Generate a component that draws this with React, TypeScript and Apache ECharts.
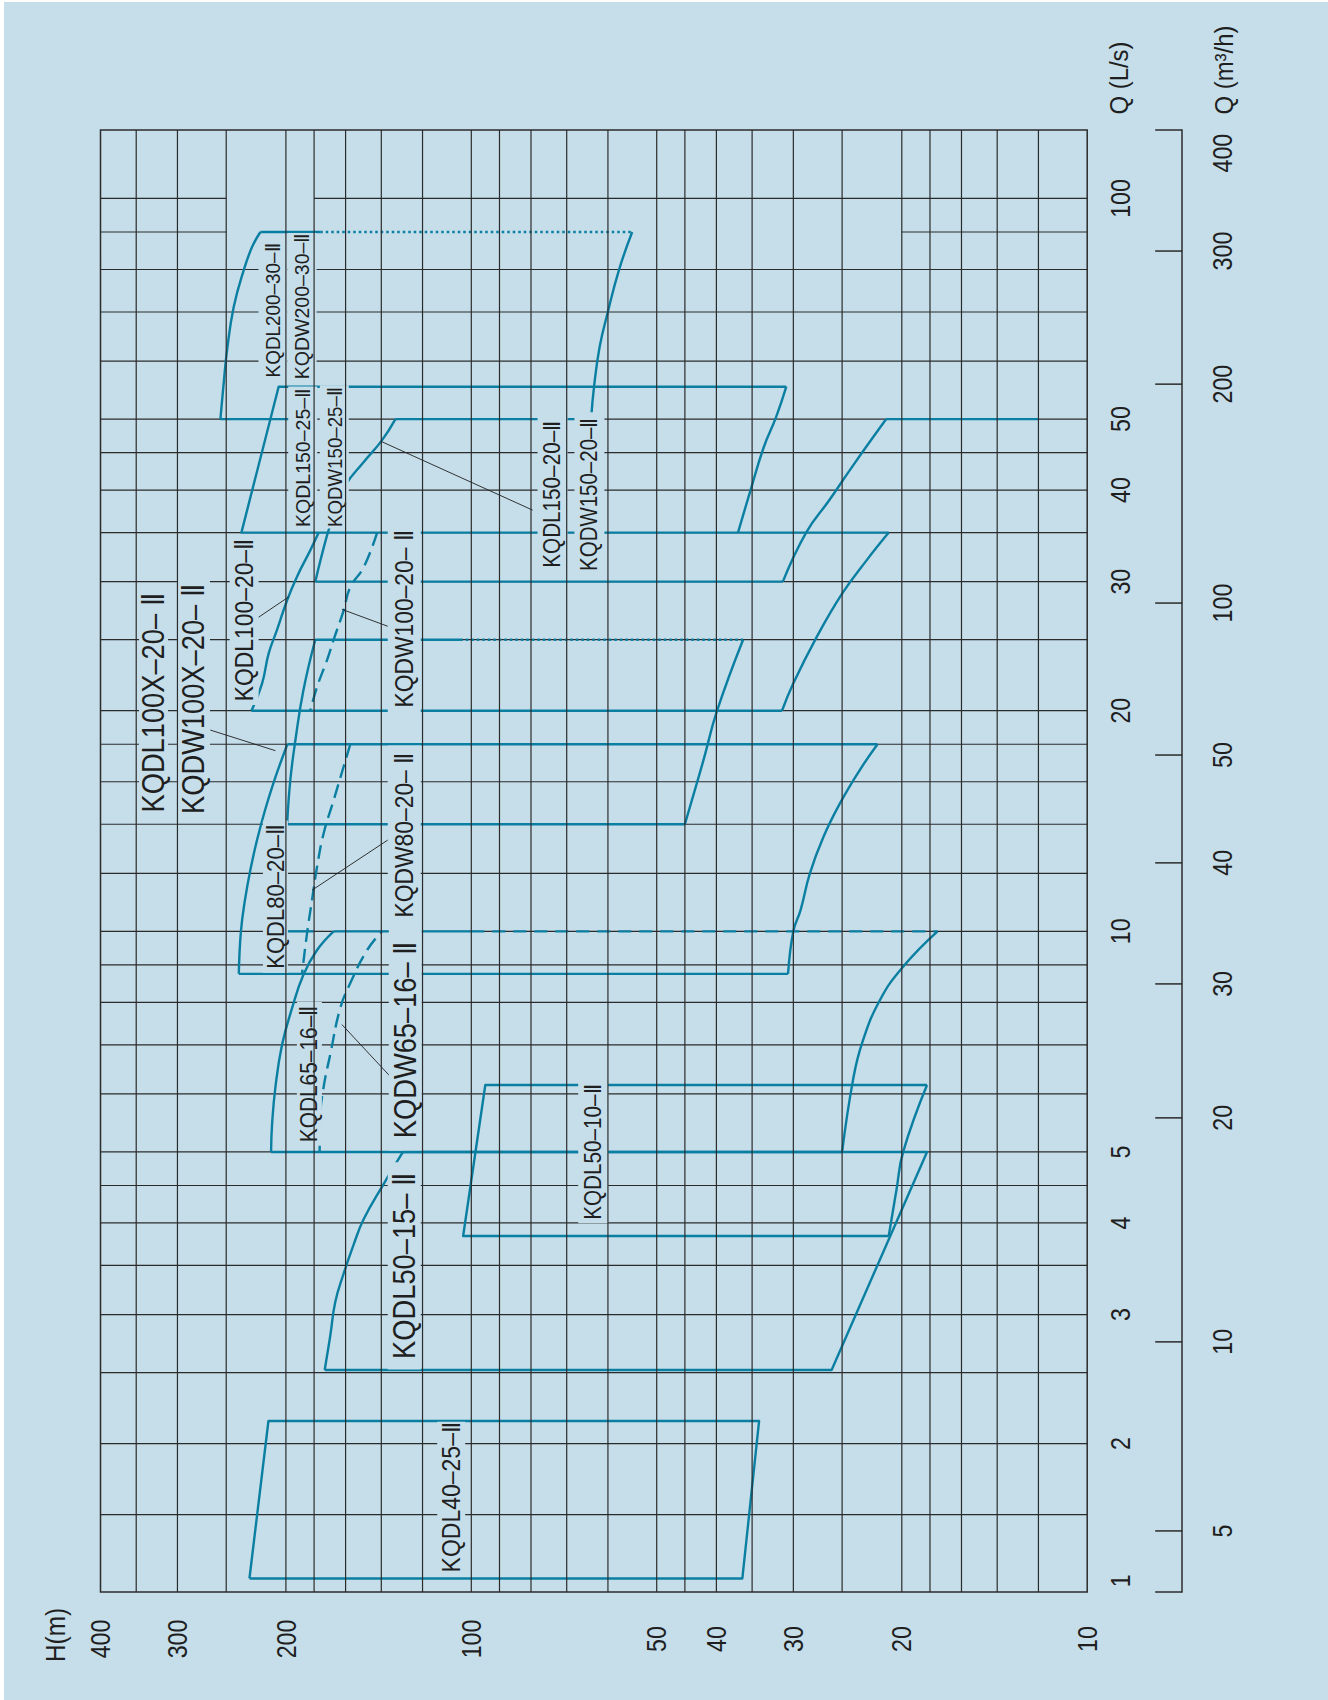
import React, { useEffect, useRef } from 'react';
import * as echarts from 'echarts';

const BG = '#c5deea';
const TEAL = '#0b7fa2';
const GRID = '#2b2b2b';
const INK = '#1f1f1f';
const FONT = "'Liberation Sans', Arial, Helvetica, sans-serif";

// ---- axes (H in m along the bottom, Q in L/s up the right side) ----
const H_MIN = 10;
const H_MAX = 400;
const Q_MIN = 1.2546;
const Q_MAX = 124;

const hTickLabels = [400, 300, 200, 100, 50, 40, 30, 20, 10];
const hGridValues = [350, 300, 250, 200, 180, 160, 140, 120, 100, 90, 80, 70, 60, 50, 45, 40, 35, 30, 25, 20, 18, 16, 14, 12];
const qGridValues = [100, 90, 80, 70, 60, 50, 45, 40, 35, 30, 25, 20, 18, 16, 14, 12, 10, 9, 8, 7, 6, 5, 4.5, 4, 3.5, 3, 2.5, 2, 1.6];
// missing pieces of horizontal grid lines: [Q, H from, H to]
const qGridGaps = [[100, 250, 180], [90, 250, 20]];

const qLsLabels = [2, 3, 4, 5, 10, 20, 30, 40, 50, 100];
const qLsBottomLabelAt = 1.3;
// m3/h scale as printed (tick positions read on the L/s scale)
const mhTickAt = [Q_MAX, 84.77, 55.8, 28.05, 17.4, 12.4, 8.477, 5.565, 2.753, 1.52, Q_MIN];
const mhLabelText = ['400', '300', '200', '100', '50', '40', '30', '20', '10', '5'];
const mhLabelAt = [115.3, 84.77, 55.8, 28.05, 17.4, 12.4, 8.477, 5.565, 2.753, 1.52];

// ---- performance envelopes: [H (m), Q (L/s)] ----
// straight strokes
const kqdl40_25Box = [[229.2, 1.309], [213.5, 2.147], [34.1, 2.147], [36.3, 1.309], [229.2, 1.309]];
const kqdl50_15Box = [[129.1, 5], [18.2, 5], [26, 2.52], [173, 2.52]];
const kqdl50_10Box = [[21, 3.84], [103.1, 3.84], [94.9, 6.17], [18.2, 6.17]];
const kqdl65_16Top = [[100, 10], [167.3, 10]];
const kqdl65_16Bottom = [[211.4, 5], [25, 5]];
const kqdl80_20Bottom = [[30.6, 8.75], [238.5, 8.75]];
const kqdl80_20Top = [[198.9, 18], [21.9, 18]];
const kqdl80Stub = [[199.1, 10], [180.3, 10]];
const kqdl100x_20Top = [[104.2, 25], [179.2, 25]];
const kqdl100x_20Bottom = [[199.1, 14], [45, 14]];
const kqdl100_20Bottom = [[227.5, 20], [31.3, 20]];
const kqdl150_20Bottom = [[179.2, 30], [31.2, 30]];
const kqdl150_20Ext = [[21.2, 50], [12, 50]];
const kqdl150_25Box = [[36.9, 35], [236.2, 35], [205.5, 55.35], [30.8, 55.35]];
const kqdl150_25Bottom = [[36.9, 35], [21, 35]];
const kqdl200_30Bottom = [[189.5, 50], [255.5, 50]];
const kqdl200_30Top = [[220, 90], [175.9, 90]];
const kqdl200_30BottomRight = [[63.9, 50], [132.8, 50]];
// dashed / dotted straight strokes
const kqdl65_16TopDashed = [[100, 10], [17.5, 10]];
const kqdl100x_20TopDotted = [[104.2, 25], [36.2, 25]];
const kqdl200_30TopDotted = [[175.9, 90], [54.8, 90]];
// curved strokes
const kqdl50_15Left = [[173, 2.52], [169.4, 2.81], [166.3, 3.12], [161.2, 3.41], [155.2, 3.74], [149.5, 4.05], [138.8, 4.52], [129.1, 5]];
const kqdl50_10Right = [[18.2, 6.17], [19.9, 5], [20.4, 4.44], [21, 3.84]];
const kqdl65_16Left = [[167.3, 10], [178, 9.43], [187.4, 8.72], [195.4, 7.86], [202.9, 7.0], [208, 6.13], [210.6, 5.46], [211.4, 5]];
const kqdl65_16Right = [[25, 5], [24, 6.27], [23.2, 7.04], [21.7, 8.06], [19.9, 8.95], [17.5, 10]];
const kqdw65_16Left = [[176.3, 5], [175.9, 5.6], [173.7, 6.13], [169.4, 6.8], [163.2, 7.86], [157.2, 8.5], [147.6, 9.43], [139.6, 10]];
const kqdl80_20Left = [[238.5, 8.75], [236.7, 9.97], [233.1, 11.03], [227.9, 12.24], [222.8, 13.32], [216.2, 14.64], [208.7, 16.1], [203.3, 17.13], [198.9, 18]];
const kqdl80_20Right = [[21.9, 18], [23.4, 16.6], [25.2, 14.95], [26.8, 13.46], [28.2, 12], [29.2, 10.69], [30, 10], [30.6, 8.75]];
const kqdw80_20Left = [[157.2, 18], [161.2, 16.77], [167.3, 15.1], [173.7, 13.6], [178, 12.25], [181.4, 11.03], [184.8, 9.94], [188.3, 8.75]];
const kqdl100x_20Left = [[179.2, 25], [187.4, 21.3], [193, 18.24], [196.7, 16.1], [199.1, 14]];
const kqdl100x_20Right = [[45, 14], [42, 17.1], [39.9, 20], [36.2, 25]];
const kqdl100_20Left = [[176.9, 35], [182.6, 33.1], [191.8, 30.5], [199.1, 28.3], [206.7, 25.8], [213.3, 23.95], [218.6, 21.8], [227.5, 20]];
const kqdl100_20Right = [[31.3, 20], [30, 21.8], [27.5, 25.2], [25, 28.9], [22.8, 32.1], [21, 35]];
const kqdw100_20Left = [[142.2, 35], [149.5, 31.4], [157.2, 29.5], [161.2, 27.4], [167.3, 25], [171.5, 23.45], [178, 21.56], [182.6, 20]];
const kqdl150_20Left = [[132.8, 50], [139.6, 46.8], [149.5, 43.7], [160.2, 40.6], [166.3, 37.6], [171.5, 34.7], [179.2, 30]];
const kqdl150_20Right = [[31.2, 30], [28.6, 35], [26.2, 38.8], [24.1, 43], [21.2, 50]];
const kqdl150_25Right = [[30.8, 55.35], [32, 50.3], [33.5, 45.8], [35.2, 40], [36.9, 35]];
const kqdl200_30Left = [[255.5, 50], [252.4, 55.9], [249.2, 62.1], [243.1, 71.1], [234.2, 79.8], [226.9, 85.9], [220, 90]];
const kqdl200_30Right = [[54.8, 90], [57.6, 79.8], [60.1, 69.7], [61.9, 62.7], [63.2, 55.35], [63.9, 50]];

const leaders = [
  [[139.6, 46.55], [79.5, 37.56]],
  [[221.9, 26.8], [197.9, 28.6]],
  [[133.7, 25.9], [162.2, 27.5]],
  [[265.3, 18.82], [208, 17.64]],
  [[135.4, 13.39], [181.4, 11.38]],
  [[162.2, 7.46], [134.5, 6.3]],
];

// model names, anchored at [H, Q]
const modelLabels = [
  { text: 'KQDL200–30–Ⅱ', h: 209.9, q: 70.4 },
  { text: 'KQDW200–30–Ⅱ', h: 188.3, q: 71.3 },
  { text: 'KQDL150–25–Ⅱ', h: 187.8, q: 44.3 },
  { text: 'KQDW150–25–Ⅱ', h: 166.9, q: 44.4 },
  { text: 'KQDL150–20–Ⅱ', h: 73.8, q: 39.5 },
  { text: 'KQDW150–20–Ⅱ', h: 64.3, q: 39.5 },
  { text: 'KQDL100–20–Ⅱ', h: 233.8, q: 26.6 },
  { text: 'KQDW100–20– Ⅱ', h: 128.5, q: 26.7 },
  { text: 'KQDL100X–20– Ⅱ', h: 328.1, q: 20.5 },
  { text: 'KQDW100X–20– Ⅱ', h: 282.6, q: 20.75 },
  { text: 'KQDL80–20–Ⅱ', h: 208, q: 11.15 },
  { text: 'KQDW80–20– Ⅱ', h: 128.5, q: 13.53 },
  { text: 'KQDW65–16– Ⅱ', h: 128, q: 7.11 },
  { text: 'KQDL65–16–Ⅱ', h: 183.2, q: 6.39 },
  { text: 'KQDL50–15– Ⅱ', h: 128.5, q: 3.495 },
  { text: 'KQDL50–10–Ⅱ', h: 63.4, q: 5.0 },
  { text: 'KQDL40–25–Ⅱ', h: 107.8, q: 1.691 },
];
// font size, horizontal condensing, padding across / along the text
const modelLabelStyle = [
  { fs: 21, cond: 0.9, pa: 6, pl: 0 },
  { fs: 21, cond: 0.93, pa: 6, pl: 0 },
  { fs: 21, cond: 0.93, pa: 6, pl: 2 },
  { fs: 21, cond: 0.89, pa: 6, pl: 2 },
  { fs: 23, cond: 0.9, pa: 6, pl: 6 },
  { fs: 23, cond: 0.89, pa: 6, pl: 6 },
  { fs: 26, cond: 0.88, pa: 4, pl: 4 },
  { fs: 26, cond: 0.88, pa: 6, pl: 8 },
  { fs: 31, cond: 0.88, pa: 2, pl: 8 },
  { fs: 31, cond: 0.88, pa: 4, pl: 8 },
  { fs: 24, cond: 0.92, pa: 3, pl: 4 },
  { fs: 26, cond: 0.88, pa: 6, pl: 8 },
  { fs: 31, cond: 0.88, pa: 4, pl: 14 },
  { fs: 24, cond: 0.87, pa: 3, pl: 4 },
  { fs: 31, cond: 0.88, pa: 4, pl: 12 },
  { fs: 23, cond: 0.9, pa: 6, pl: 4 },
  { fs: 25, cond: 0.92, pa: 4, pl: 0 },
];

function buildHSegments() {
  const segs: number[][] = [];
  qGridValues.forEach((q) => {
    let start = H_MAX;
    qGridGaps.filter((g) => g[0] === q).forEach((g) => {
      segs.push([start, q, g[1], q]);
      start = g[2];
    });
    segs.push([start, q, H_MIN, q]);
  });
  return segs;
}

function segSeries(segs: number[][], z: number, color: string, width: number) {
  return {
    type: 'custom',
    data: segs,
    z,
    silent: true,
    clip: false,
    renderItem: (_p: any, api: any) => {
      const a = api.coord([api.value(0), api.value(1)]);
      const b = api.coord([api.value(2), api.value(3)]);
      return {
        type: 'line',
        shape: { x1: a[0], y1: a[1], x2: b[0], y2: b[1] },
        style: { stroke: color, lineWidth: width },
      };
    },
  };
}

function stroke(data: number[][], dash: any = 'solid', smooth: any = false) {
  return {
    type: 'line',
    data,
    smooth,
    showSymbol: false,
    symbol: 'none',
    silent: true,
    z: 2,
    lineStyle: { color: TEAL, width: 2.4, type: dash, cap: 'butt', join: 'round' },
  };
}

function textSeries(rows: any[], z: number) {
  return {
    type: 'custom',
    data: rows.map((r, i) => [r.h, r.q, i]),
    z,
    silent: true,
    clip: false,
    renderItem: (_p: any, api: any) => {
      const r = rows[api.value(2)];
      const p = api.coord([api.value(0), api.value(1)]);
      return {
        type: 'text',
        x: p[0] + (r.dx || 0),
        y: p[1] + (r.dy || 0),
        rotation: Math.PI / 2,
        scaleX: r.cond,
        style: {
          text: r.text,
          fill: INK,
          fontSize: r.fs,
          fontFamily: FONT,
          align: 'center',
          verticalAlign: 'middle',
          backgroundColor: r.bg || 'transparent',
          padding: r.pad || 0,
          lineHeight: r.lh || r.fs,
        },
      };
    },
  };
}

export default function App() {
  const ref = useRef<HTMLDivElement>(null);
  useEffect(() => {
    if (!ref.current) return;
    const chart = echarts.init(ref.current, undefined, { renderer: 'svg' });

    const vSegs = hGridValues.map((h) => [h, Q_MIN, h, Q_MAX]);
    const hSegs = buildHSegments();
    const mhTicks = mhTickAt.map((q) => [H_MIN, q]);

    const axisNum = { fs: 27, cond: 0.86 };
    const axisRows: any[] = [];
    hTickLabels.forEach((h) => axisRows.push({ h, q: Q_MIN, dx: 0, dy: 47, text: String(h), ...axisNum }));
    qLsLabels.forEach((q) => axisRows.push({ h: H_MIN, q, dx: 33, dy: 0, text: String(q), ...axisNum }));
    axisRows.push({ h: H_MIN, q: qLsBottomLabelAt, dx: 33, dy: 0, text: '1', ...axisNum });
    mhLabelText.forEach((t, i) => axisRows.push({ h: H_MIN, q: mhLabelAt[i], dx: 135, dy: 0, text: t, ...axisNum }));
    axisRows.push({ h: H_MAX, q: Q_MIN, dx: -45, dy: 43, text: 'H(m)', fs: 27, cond: 0.9 });
    axisRows.push({ h: H_MIN, q: Q_MAX, dx: 31, dy: -52, text: 'Q (L/s)', fs: 26, cond: 0.92 });
    axisRows.push({ h: H_MIN, q: Q_MAX, dx: 136, dy: -60, text: 'Q (m³/h)', fs: 26, cond: 0.92 });

    const labelRows = modelLabels.map((l, i) => {
      const s = modelLabelStyle[i];
      return { h: l.h, q: l.q, text: l.text, fs: s.fs, cond: s.cond, bg: BG, pad: [s.pa, s.pl], lh: Math.round(s.fs * 0.8) };
    });

    const straight = [
      kqdl40_25Box, kqdl50_15Box, kqdl50_10Box, kqdl65_16Top, kqdl65_16Bottom, kqdl80_20Bottom, kqdl80_20Top,
      kqdl80Stub, kqdl100x_20Top, kqdl100x_20Bottom, kqdl100_20Bottom, kqdl150_20Bottom, kqdl150_20Ext,
      kqdl150_25Box, kqdl150_25Bottom, kqdl200_30Bottom, kqdl200_30Top, kqdl200_30BottomRight,
    ];
    const curved = [
      kqdl50_15Left, kqdl50_10Right, kqdl65_16Left, kqdl65_16Right, kqdl80_20Left, kqdl80_20Right,
      kqdl100x_20Left, kqdl100x_20Right, kqdl100_20Left, kqdl100_20Right, kqdl150_20Left, kqdl150_20Right,
      kqdl150_25Right, kqdl200_30Left, kqdl200_30Right,
    ];
    const dashedCurves = [kqdw65_16Left, kqdw80_20Left, kqdw100_20Left];

    const option: any = {
      animation: false,
      backgroundColor: BG,
      graphic: [
        { type: 'rect', shape: { x: 0, y: 0, width: 4, height: 1700 }, style: { fill: '#ffffff' }, z: 100 },
        { type: 'rect', shape: { x: 0, y: 0, width: 1328, height: 2 }, style: { fill: '#ffffff' }, z: 100 },
      ],
      grid: { left: 100.5, top: 130, width: 986.7, height: 1462, show: true, borderColor: GRID, borderWidth: 1.5, backgroundColor: 'transparent' },
      xAxis: {
        type: 'log', logBase: 10, min: H_MIN, max: H_MAX, inverse: true,
        axisLine: { show: false }, axisTick: { show: false }, axisLabel: { show: false }, splitLine: { show: false },
      },
      yAxis: [
        {
          type: 'log', logBase: 10, min: Q_MIN, max: Q_MAX, position: 'right',
          axisLine: { show: false }, axisTick: { show: false }, axisLabel: { show: false }, splitLine: { show: false },
        },
        {
          type: 'log', logBase: 10, min: Q_MIN, max: Q_MAX, position: 'right', offset: 95,
          axisLine: { show: true, lineStyle: { color: GRID, width: 1.5 } }, axisTick: { show: false }, axisLabel: { show: false }, splitLine: { show: false },
        },
      ],
      series: [
        segSeries(hSegs, 1, GRID, 1.2),
        ...straight.map((d) => stroke(d)),
        ...curved.map((d) => stroke(d, 'solid', 0.45)),
        ...dashedCurves.map((d) => stroke(d, [14, 7], 0.45)),
        stroke(kqdl65_16TopDashed, [13, 8]),
        stroke(kqdl100x_20TopDotted, [2.5, 3]),
        stroke(kqdl200_30TopDotted, [2.5, 3]),
        ...leaders.map((l) => ({
          type: 'line', data: l, showSymbol: false, symbol: 'none', silent: true, z: 2,
          lineStyle: { color: INK, width: 0.9 },
        })),
        textSeries(labelRows, 3),
        segSeries(vSegs, 4, GRID, 1.2),
        {
          type: 'custom', data: mhTicks, z: 4, silent: true, clip: false,
          renderItem: (_p: any, api: any) => {
            const p = api.coord([api.value(0), api.value(1)]);
            return { type: 'line', shape: { x1: p[0] + 68, y1: p[1], x2: p[0] + 95, y2: p[1] }, style: { stroke: GRID, lineWidth: 1.5 } };
          },
        },
        textSeries(axisRows, 5),
      ],
    };
    chart.setOption(option);
    return () => chart.dispose();
  }, []);
  return <div ref={ref} style={{ position: 'absolute', left: 0, top: 0, width: 1328, height: 1700 }} />;
}
